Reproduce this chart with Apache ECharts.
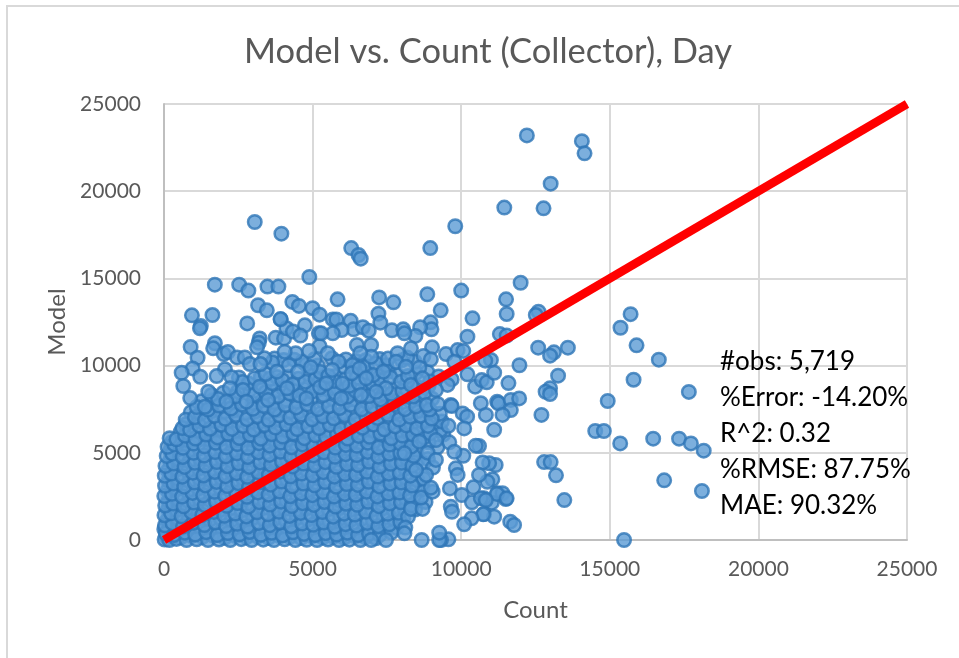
<!DOCTYPE html>
<html>
<head>
<meta charset="utf-8">
<style>
html,body{margin:0;padding:0;background:#fff;}
#main{width:959px;height:658px;}
</style>
<script src="https://cdn.jsdelivr.net/npm/echarts@6/dist/echarts.min.js"></script>
</head>
<body>
<div id="main"></div>
<script>
var chartTitle='Model vs. Count (Collector), Day';
var statLines=['#obs: 5,719','%Error: -14.20%','R^2: 0.32','%RMSE: 87.75%','MAE: 90.32%'];
var fitLine=[[0,0],[25000,25000]];

// points, [count, model]
var sparsePoints=[
[3054,18234],[3950,17565],[6300,16740],[6545,16340],[6620,16130],[8960,16740],[9800,17990],[4890,15080],
[1710,14640],[2530,14640],[2840,14300],[3480,14530],[3850,14530],[5840,13800],[7240,13910],[7720,13630],
[8860,14090],[10000,14300],[9310,13170],[4320,13650],[4540,13420],[3165,13460],[3460,13170],[5000,13290],
[5235,12920],[5680,12650],[5800,12650],[6280,12570],[7215,12980],[7280,12460],[8970,12480],[10380,12710],
[940,12880],[1630,12900],[1240,12270],[1210,12140],[2800,12420],[3930,12650],[4740,12310],[896,11066],
[1712,11280],[1655,10990],[1130,10450],[963,9840],[594,9590],[1220,9360],[650,8830],[883,8140],
[2010,10660],[2150,10780],[2460,10470],[2720,10470],[2890,10090],[3245,10090],[2050,9790],[1770,9400],
[2270,9330],[1490,8500],[3220,11560],[3190,11310],[3130,11050],[3760,11600],[4040,11560],[4120,12140],
[3920,12670],[4340,11950],[4590,11720],[5210,11850],[5235,11120],[4880,10840],[4430,10710],[4060,10800],
[3800,9650],[4510,9650],[4940,9900],[4140,8700],[3220,8790],[2215,8700],[2660,8600],[3500,8030],
[4790,8120],[2100,7930],[2775,7930],[1375,7640],[9000,12080],[8620,12200],[8460,11700],[7670,12020],
[8050,12080],[8090,11850],[6380,12080],[5975,12040],[5680,11850],[6690,12200],[6890,12000],[5290,11850],
[10210,11660],[11300,11810],[11530,11720],[6490,11180],[6970,11180],[8310,10990],[9020,11050],[7860,10710],
[7810,10220],[6970,10510],[6600,10710],[5510,10710],[5870,10220],[8730,10550],[8980,10360],[9490,10660],
[9880,10890],[10070,10840],[9770,10220],[8590,9880],[8140,9940],[7380,9650],[5660,9750],[6320,9560],
[6580,9840],[6800,9270],[6000,8980],[11000,10320],[10810,10280],[10210,9500],[10470,8790],[10690,9170],
[10860,9040],[11110,9590],[9680,9210],[9540,8890],[8310,8890],[8700,9270],[9150,8600],[6630,8310],
[5960,8120],[5460,8980],[7470,8700],[7140,8500],[10660,7840],[11210,7930],[9650,7740],[8840,7740],
[9210,7800],[12000,14750],[11510,13800],[11530,12960],[12600,13090],[12510,12900],[12590,11030],[13120,10760],
[12990,10570],[13590,11030],[12210,23200],[14060,22870],[14150,22170],[13010,20430],[11450,19060],[12770,19020],
[11960,10020],[13260,9420],[11590,9000],[12990,8700],[12840,8500],[12990,8370],[14930,7970],[11250,7840],
[11670,8030],[11950,8120],[9680,7680],[11670,7450],[11390,7170],[10830,7170],[12700,7170],[10050,7260],
[10200,7070],[15360,12170],[15700,12950],[15900,11160],[16650,10340],[15800,9190],[17660,8490],[14510,6250],
[14800,6250],[15350,5540],[16460,5810],[17330,5810],[17730,5540],[18160,5120],[16830,3420],[18100,2810],
[15480,0],[11110,6320],[12790,4470],[13010,4470],[13190,3710],[13470,2290],[11160,4300],[10940,4400],
[10720,4450],[11050,3480],[10880,3340],[11220,2680],[11390,2680],[11500,2350],[11030,2140],[10770,2390],
[10770,1490],[11110,1340],[11650,1050],[11780,860],[10600,5390],[10490,5410],[10100,6400],[9570,6550],
[9600,5600],[10070,4830],[9770,5060],[9820,4110],[9880,3730],[10600,3730],[9620,2960],[10410,3020],
[10020,2580],[10360,2160],[10660,2390],[11200,2640],[11530,2390],[10830,2290],[9650,1910],[9690,1620],
[10740,1470],[10350,1240],[10100,900],[9570,40],[9320,0],[8670,0],[9260,0],[9260,420],
[8120,710],[8090,380],[7470,0],[6970,0],[8310,1780],[8700,1780],[8650,2430],[9040,2770],
[8980,3000],[8820,3730],[8480,4010],[9150,5730],[8590,5640],[8090,4970],[8870,5010],[9150,4590]
];

// the packed part of the cloud, estimated row by row
var densePoints=[
[20,30],[180,0],[420,60],[760,0],[1100,40],[1480,0],[1850,30],[2230,0],[2600,50],[2950,0],[3340,20],[3700,0],[4060,40],[4420,0],[4800,10],[5150,0],[5520,30],[5890,0],[6240,20],[6610,0],
[60,380],[340,290],[700,420],[1050,310],[1420,450],[1790,280],[2150,400],[2540,330],[2880,460],[3260,300],[3620,410],[3990,260],[4340,440],[4710,350],[5090,280],[5440,390],[5810,310],[6170,420],[6530,280],[6900,360],[7260,300],[7650,430],
[30,840],[290,950],[640,780],[980,990],[1360,860],[1730,1010],[2090,800],[2460,930],[2810,770],[3190,980],[3560,850],[3910,1020],[4280,790],[4650,940],[5020,870],[5370,1000],[5740,760],[6110,910],[6470,830],[6840,980],[7210,790],[7580,900],[7950,1040],
[15,1420],[240,1530],[590,1360],[930,1580],[1290,1440],[1680,1610],[2030,1390],[2400,1520],[2770,1350],[3130,1590],[3500,1470],[3870,1620],[4220,1380],[4600,1550],[4960,1430],[5330,1600],[5690,1340],[6060,1510],[6420,1460],[6790,1620],[7150,1370],[7530,1500],[7900,1560],[8210,1330],
[40,1980],[310,2090],[660,1930],[1010,2150],[1370,2000],[1750,2190],[2110,1960],[2480,2120],[2840,1910],[3210,2170],[3570,2030],[3940,2200],[4300,1950],[4670,2110],[5040,2010],[5400,2180],[5770,1920],[6130,2080],[6500,2020],[6870,2190],[7230,1940],[7600,2100],[7970,2160],[8330,1990],
[10,2520],[270,2650],[610,2490],[960,2700],[1320,2560],[1700,2760],[2060,2530],[2430,2680],[2790,2480],[3160,2730],[3520,2600],[3890,2780],[4250,2510],[4620,2670],[4990,2570],[5350,2750],[5720,2490],[6080,2640],[6450,2590],[6820,2770],[7180,2500],[7550,2660],[7920,2720],[8280,2550],
[35,3110],[320,3240],[680,3060],[1030,3290],[1390,3130],[1770,3330],[2130,3090],[2500,3260],[2860,3050],[3230,3310],[3590,3170],[3960,3350],[4320,3080],[4690,3240],[5060,3140],[5420,3320],[5790,3060],[6150,3210],[6520,3160],[6890,3340],[7250,3070],[7620,3230],[7990,3290],[8350,3120],
[25,3690],[250,3810],[620,3630],[970,3860],[1330,3700],[1710,3900],[2070,3660],[2440,3830],[2800,3620],[3170,3880],[3530,3740],[3900,3920],[4260,3650],[4630,3810],[5000,3710],[5360,3890],[5730,3630],[6090,3780],[6460,3730],[6830,3910],[7190,3640],[7560,3800],[7930,3860],[8290,3690],
[50,4250],[330,4380],[690,4190],[1040,4430],[1400,4270],[1780,4470],[2140,4230],[2510,4400],[2870,4190],[3240,4450],[3600,4310],[3970,4490],[4330,4220],[4700,4380],[5070,4280],[5430,4460],[5800,4200],[6160,4350],[6530,4300],[6900,4480],[7260,4210],[7630,4370],[8000,4430],[8360,4260],[8720,4400],[9050,4150],
[90,4820],[280,4950],[630,4760],[990,5000],[1350,4840],[1720,5040],[2080,4800],[2450,4970],[2820,4760],[3180,5020],[3550,4880],[3920,5060],[4280,4790],[4650,4950],[5020,4850],[5380,5030],[5750,4770],[6110,4920],[6480,4870],[6850,5050],[7210,4780],[7580,4940],[7950,5000],[8400,4830],
[120,5340],[350,5480],[640,5290],[1000,5530],[1360,5370],[1740,5570],[2100,5330],[2470,5500],[2830,5290],[3200,5550],[3560,5410],[3930,5590],[4290,5320],[4660,5480],[5030,5380],[5390,5560],[5760,5300],[6120,5450],[6490,5400],[6860,5580],[7220,5310],[7590,5470],[7960,5530],[8320,5360],
[190,5840],[420,5770],[710,5980],[1060,5820],[1420,6050],[1800,5880],[2160,6090],[2530,5850],[2890,6030],[3260,5810],[3620,6070],[3990,5930],[4350,6110],[4720,5840],[5090,6000],[5450,5900],[5820,6080],[6180,5820],[6550,5970],[6920,5920],[7280,6100],[7650,5830],[8020,5990],[8380,6050],[8750,5880],[8960,6120],
[620,6420],[880,6310],[1190,6560],[1550,6380],[1930,6610],[2290,6370],[2660,6540],[3020,6330],[3390,6590],[3750,6450],[4120,6630],[4480,6360],[4850,6520],[5220,6420],[5580,6600],[5950,6340],[6310,6490],[6680,6440],[7050,6620],[7410,6350],[7780,6510],[8150,6570],[8510,6400],[8880,6540],
[730,6900],[1040,7040],[1380,6870],[1700,7120],[2060,6950],[2420,7170],[2790,6930],[3150,7100],[3520,6890],[3880,7150],[4250,7010],[4610,7190],[4980,6920],[5350,7080],[5710,6980],[6080,7160],[6440,6900],[6810,7050],[7180,7000],[7540,7180],[7910,6910],[8280,7070],[8640,7130],[9010,6960],
[1100,7620],[1480,7480],[1850,7710],[2250,7540],[2620,7760],[2990,7520],[3350,7690],[3720,7480],[4080,7740],[4450,7600],[4820,7780],[5180,7510],[5550,7670],[5910,7570],[6280,7750],[6650,7490],[7010,7640],[7380,7590],[7740,7770],[8110,7500],[8480,7660],[8940,7480],
[3020,8320],[3420,8470],[3850,8250],[4240,8400],[4560,8280],[5010,8520],[5370,8310],[5740,8470],[6170,8220],[6440,8560],[6900,8250],[7290,8060],[7650,8380],[8020,8540],[8390,8230],[8760,8450],[2410,8240],[1820,8090],
[3640,8990],[3980,9160],[4330,8920],[4760,9080],[5100,9230],[5250,8760],[5730,9110],[6230,8840],[6550,9000],[7020,8980],[7300,9140],[7620,9320],[7980,9080],[8210,9410],[8950,9090],[2640,9060],[3050,9280],[3420,9520],
[4200,10020],[4660,10230],[5060,10360],[5260,9630],[6120,10350],[6340,10030],[6830,9950],[7130,10120],[7540,10400],[3640,10180],[3380,10420],[8180,10460],[7040,9460],[5530,9410]
];

// second pass over the cloud, filling what sits between the rows above
var fillPoints=[
[90,170],[260,210],[560,140],[930,230],[1290,160],[1660,240],[2040,130],[2410,220],[2770,150],[3150,190],[3520,120],[3880,230],[4240,170],[4610,110],[4980,210],[5340,140],[5700,180],[6060,120],[6430,210],[6780,150],[7130,100],
[10,620],[170,690],[510,590],[870,700],[1240,630],[1600,720],[1970,590],[2330,660],[2700,610],[3070,710],[3430,580],[3800,670],[4160,620],[4530,720],[4900,600],[5260,680],[5630,590],[5990,700],[6350,640],[6720,580],[7080,680],[7450,620],[7820,690],
[120,1170],[460,1220],[810,1130],[1180,1260],[1540,1160],[1910,1240],[2270,1120],[2640,1210],[3000,1270],[3370,1150],[3730,1230],[4100,1110],[4470,1250],[4830,1170],[5200,1220],[5560,1100],[5930,1240],[6290,1160],[6660,1210],[7030,1120],[7390,1250],[7760,1170],[8050,1210],
[130,1760],[420,1710],[780,1810],[1150,1690],[1510,1790],[1880,1720],[2240,1830],[2610,1700],[2980,1780],[3340,1840],[3710,1710],[4070,1790],[4440,1730],[4800,1820],[5170,1690],[5540,1770],[5900,1830],[6270,1720],[6630,1800],[7000,1740],[7360,1820],[7730,1700],[8100,1790],[8450,1750],
[150,2260],[470,2340],[830,2230],[1190,2380],[1560,2280],[1920,2350],[2290,2220],[2660,2320],[3020,2390],[3390,2250],[3750,2340],[4120,2270],[4480,2400],[4850,2240],[5220,2310],[5580,2370],[5950,2230],[6310,2330],[6680,2290],[7050,2390],[7410,2240],[7780,2320],[8140,2380],[8510,2260],[8800,2180],
[120,2840],[440,2920],[790,2810],[1160,2960],[1520,2850],[1890,2990],[2250,2800],[2620,2930],[2980,2870],[3350,3000],[3720,2820],[4080,2910],[4450,2970],[4810,2830],[5180,2950],[5550,2790],[5910,2900],[6280,2860],[6640,2980],[7010,2840],[7380,2920],[7740,2800],[8110,2940],[8470,2870],[8700,2990],
[150,3410],[470,3500],[850,3380],[1200,3520],[1570,3420],[1930,3550],[2300,3370],[2670,3490],[3030,3430],[3400,3560],[3760,3390],[4130,3480],[4490,3540],[4860,3400],[5230,3510],[5590,3360],[5960,3470],[6320,3430],[6690,3550],[7060,3410],[7420,3490],[7790,3370],[8150,3530],[8520,3440],[8740,3510],
[130,3980],[450,4060],[800,3950],[1170,4100],[1530,3990],[1900,4130],[2260,3940],[2630,4070],[2990,4010],[3360,4140],[3720,3960],[4090,4050],[4460,4110],[4820,3970],[5190,4080],[5550,3930],[5920,4040],[6290,4000],[6650,4120],[7020,3980],[7380,4060],[7750,3940],[8120,4100],[8480,4020],
[200,4540],[490,4620],[850,4510],[1220,4660],[1580,4550],[1950,4690],[2310,4500],[2680,4630],[3040,4570],[3410,4700],[3780,4520],[4140,4610],[4510,4670],[4870,4530],[5240,4640],[5610,4490],[5970,4600],[6340,4560],[6700,4680],[7070,4540],[7440,4620],[7800,4500],[8170,4660],[8530,4580],[8880,4640],
[210,5130],[480,5210],[820,5100],[1180,5250],[1540,5140],[1910,5280],[2280,5090],[2640,5220],[3010,5160],[3370,5290],[3740,5110],[4100,5200],[4470,5260],[4840,5120],[5200,5230],[5570,5080],[5930,5190],[6300,5150],[6670,5270],[7030,5130],[7400,5210],[7760,5090],[8130,5250],[8500,5170],[9200,5320],
[260,5610],[510,5700],[860,5660],[1220,5780],[1580,5690],[1950,5810],[2310,5630],[2680,5750],[3050,5680],[3410,5800],[3780,5650],[4140,5740],[4510,5790],[4870,5660],[5240,5770],[5610,5620],[5970,5730],[6340,5690],[6700,5810],[7070,5670],[7440,5750],[7800,5630],[8170,5790],[8540,5710],[8900,5600],[9400,6050],
[560,6200],[840,6110],[1220,6240],[1600,6170],[1970,6290],[2340,6140],[2700,6260],[3070,6200],[3430,6310],[3800,6170],[4170,6260],[4530,6320],[4900,6180],[5260,6290],[5630,6140],[5990,6250],[6360,6210],[6730,6330],[7090,6190],[7460,6270],[7820,6150],[8190,6310],[8560,6230],[8920,6290],[9300,6300],
[740,6640],[1030,6760],[1380,6680],[1740,6810],[2110,6700],[2470,6830],[2840,6650],[3210,6770],[3570,6710],[3940,6840],[4300,6660],[4670,6750],[5040,6810],[5400,6670],[5770,6780],[6130,6630],[6500,6740],[6870,6700],[7230,6820],[7600,6680],[7960,6760],[8330,6640],[8700,6800],[9070,6720],[9350,6800],
[900,7320],[1230,7250],[1600,7390],[1960,7290],[2330,7420],[2700,7240],[3060,7360],[3430,7300],[3790,7430],[4160,7250],[4520,7340],[4890,7400],[5260,7260],[5620,7370],[5990,7220],[6350,7330],[6720,7290],[7090,7410],[7450,7270],[7820,7350],[8180,7230],[8550,7390],[8920,7310],[9280,7240],
[1260,7950],[1640,8010],[2280,7900],[2980,7860],[3310,8010],[3700,7910],[4110,8050],[4470,7930],[4950,8020],[5370,7930],[5700,8060],[6060,7950],[6470,8030],[6850,7880],[7200,7980],[7560,7930],[7930,8050],[8300,7950],[8660,8030],[9020,8100],
[1600,8320],[2000,8450],[2480,8520],[2900,8620],[3320,8640],[3700,8520],[4000,8700],[4400,8560],[4720,8640],[5100,8780],[5540,8640],[5840,8700],[6100,8620],[6320,8380],[6800,8600],[7040,8720],[7390,8380],[7780,8700],[8180,8620],[8540,8760],[8900,8820],
[2520,9320],[2840,8980],[3260,9360],[3560,9240],[3800,9340],[4180,9360],[4520,9240],[4880,9480],[5260,9180],[5760,9400],[6120,9260],[6480,9300],[6760,9620],[7260,9400],[7560,9650],[7880,9440],[8200,9110],[8480,9580],[8860,9640],[9240,9380],
[3720,10400],[4030,10320],[4380,10340],[4780,10060],[5180,10000],[5650,10420],[6060,9930],[6460,10260],[6780,10300],[7260,10380],[7480,10020],[8000,10300],[8440,10220]
];

var pointStyle={color:'#5b9bd5',borderColor:'#2e75b6',borderWidth:2.5};
var labelFont='Lato';

function plainTick(v){
    return String(v);
}

var statTexts=[];
for(var i=0;i<statLines.length;i++){
    statTexts.push({
        type:'text',
        left:720,
        top:349+i*36,
        z:100,
        style:{text:statLines[i],fill:'#000',font:'26px Lato'}
    });
}

var myChart=echarts.init(document.getElementById('main'));
var option={
    backgroundColor:'#fff',
    animation:false,
    title:{
        text:chartTitle,
        left:483,
        top:29,
        textAlign:'center',
        textStyle:{color:'#595959',fontSize:34.5,fontWeight:'normal',fontFamily:labelFont}
    },
    grid:{left:164,top:104,right:52,bottom:118},
    xAxis:{
        type:'value',min:0,max:25000,interval:5000,
        name:'Count',nameLocation:'middle',nameGap:58,
        nameTextStyle:{color:'#595959',fontSize:24,fontFamily:labelFont},
        axisLine:{show:true,lineStyle:{color:'#bfbfbf',width:2}},
        axisTick:{show:false},
        axisLabel:{color:'#595959',fontSize:21,fontFamily:labelFont,margin:19,formatter:plainTick},
        splitLine:{show:true,lineStyle:{color:'#d9d9d9',width:2}}
    },
    yAxis:{
        type:'value',min:0,max:25000,interval:5000,
        name:'Model',nameLocation:'middle',nameGap:92,
        nameTextStyle:{color:'#595959',fontSize:24,fontFamily:labelFont},
        axisLine:{show:true,lineStyle:{color:'#bfbfbf',width:2}},
        axisTick:{show:false},
        axisLabel:{color:'#595959',fontSize:21,fontFamily:labelFont,margin:23,formatter:plainTick},
        splitLine:{show:true,lineStyle:{color:'#d9d9d9',width:2}}
    },
    graphic:[{
        type:'rect',
        shape:{x:7,y:6,width:1000,height:700},
        style:{fill:'none',stroke:'#d9d9d9',lineWidth:2},
        z:-1
    }].concat(statTexts),
    series:[
        {type:'scatter',data:fillPoints,symbolSize:13.5,itemStyle:pointStyle,clip:false,z:2},
        {type:'scatter',data:densePoints,symbolSize:13.5,itemStyle:pointStyle,clip:false,z:2},
        {type:'scatter',data:sparsePoints,symbolSize:13.5,itemStyle:pointStyle,clip:false,z:2},
        {type:'line',data:fitLine,showSymbol:false,symbol:'none',lineStyle:{color:'#ff0000',width:8.5,cap:'butt'},z:5}
    ]
};
myChart.setOption(option);
</script>
</body>
</html>
